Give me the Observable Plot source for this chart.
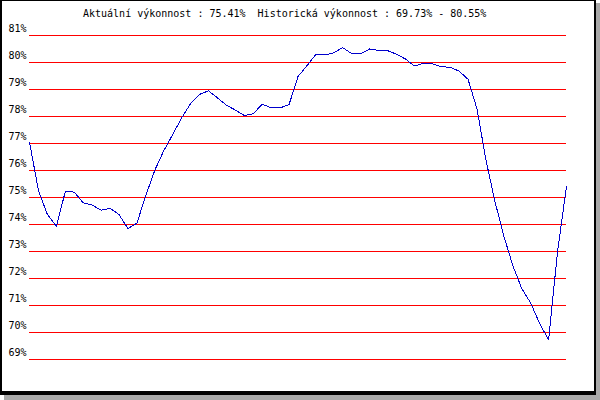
<!DOCTYPE html>
<html>
<head>
<meta charset="utf-8">
<script src="https://cdn.jsdelivr.net/npm/d3@7"></script>
<script src="https://cdn.jsdelivr.net/npm/@observablehq/plot@0.6"></script>
<style>
  html, body { margin: 0; padding: 0; background: #ffffff; }
  #wrap { position: relative; width: 600px; height: 400px; overflow: hidden; background: #ffffff; }
  #shadow { position: absolute; left: 4px; top: 3px; width: 596px; height: 397px; background: #a8a8a8; }
  #frame { position: absolute; left: 0; top: 0; width: 592px; height: 390px; background: #ffffff;
           border-left: 2px solid #000; border-top: 1px solid #000; border-right: 2px solid #000; border-bottom: 4px solid #000; }
  #title { position: absolute; left: 83px; top: 8px; font: 10px "DejaVu Sans Mono", monospace; line-height: 12px;
           white-space: pre; color: #000; }
  #chart { position: absolute; left: 0; top: 0; }
</style>
</head>
<body>
<div id="wrap">
  <div id="shadow"></div>
  <div id="frame"></div>
  <div id="title"></div>
  <div id="chart"></div>
</div>
<script>
// Performance series (percent), one value per sample
const values = [77.05, 75.26, 74.37, 73.93, 75.22, 75.2, 74.8, 74.72, 74.53, 74.6,
  74.37, 73.85, 74.05, 75.08, 76.01, 76.73, 77.33, 77.95, 78.48, 78.82,
  78.95, 78.69, 78.42, 78.24, 78.04, 78.1, 78.46, 78.32, 78.32, 78.44,
  79.48, 79.88, 80.3, 80.28, 80.36, 80.55, 80.33, 80.32, 80.5, 80.45,
  80.44, 80.31, 80.13, 79.87, 79.97, 79.95, 79.85, 79.82, 79.68, 79.38,
  78.28, 76.39, 74.86, 73.57, 72.48, 71.63, 71.09, 70.33, 69.73, 73.0, 75.41];
const yTicks = [69, 70, 71, 72, 73, 74, 75, 76, 77, 78, 79, 80, 81];
const currentPerf = "75.41";
const histMin = "69.73";
const histMax = "80.55";

document.getElementById("title").textContent =
  "Aktuální výkonnost : " + currentPerf + "%  Historická výkonnost : " + histMin + "% - " + histMax + "%";

const data = values.map((v, i) => ({i, v}));

const chart = Plot.plot({
  width: 600,
  height: 400,
  marginLeft: 29,
  marginRight: 34,
  marginTop: 35,
  marginBottom: 41,
  style: {background: "transparent", fontFamily: "DejaVu Sans Mono, monospace", fontSize: "10px", color: "#000"},
  x: {domain: [0, values.length - 1], axis: null},
  y: {domain: [69, 81]},
  marks: [
    Plot.ruleY(yTicks, {stroke: "#ff0000", strokeWidth: 1, shapeRendering: "crispEdges"}),
    Plot.axisY(yTicks, {tickSize: 0, tickPadding: 3, tickFormat: d => d + "%", dy: -6.5, fill: "#000", fontSize: 10, label: null}),
    Plot.line(data, {x: "i", y: "v", stroke: "#0000cc", strokeWidth: 1, shapeRendering: "crispEdges"})
  ]
});
document.getElementById("chart").appendChild(chart);
</script>
</body>
</html>
